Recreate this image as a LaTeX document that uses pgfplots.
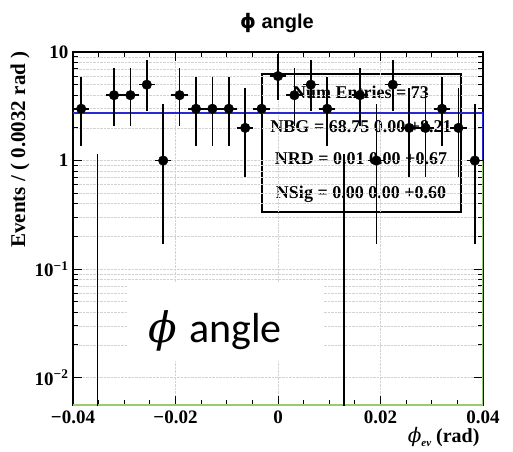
\documentclass[border=0pt]{standalone}
\usepackage{pgfplots}
\pgfplotsset{compat=1.18}
\usepackage{pgfplotstable}
\usepackage{fontspec}
\setmainfont{Liberation Serif}
\newfontfamily\helv{Liberation Sans}
\newfontfamily\dejavu{DejaVu Sans}
\newfontfamily\dejaserif{DejaVu Serif}
\newfontfamily\calibri{Carlito}

% bin centre, events, upper / lower Poisson errors
\pgfplotstableread{
x       y  ep    em
-0.0384 3  2.92  1.63
-0.0320 4  3.16  1.91
-0.0288 4  3.16  1.91
-0.0256 5  3.38  2.16
-0.0224 1  2.30  0.83
-0.0192 4  3.16  1.91
-0.0160 3  2.92  1.63
-0.0128 3  2.92  1.63
-0.0096 3  2.92  1.63
-0.0064 2  2.64  1.29
-0.0032 3  2.92  1.63
 0.0000 6  3.58  2.38
 0.0032 4  3.16  1.91
 0.0064 5  3.38  2.16
 0.0096 3  2.92  1.63
 0.0160 4  3.16  1.91
 0.0192 1  2.30  0.83
 0.0224 5  3.38  2.16
 0.0256 2  2.64  1.29
 0.0288 2  2.64  1.29
 0.0320 3  2.92  1.63
 0.0352 2  2.64  1.29
 0.0384 1  2.30  0.83
}\events

\begin{document}
\begin{tikzpicture}
\useasboundingbox (-73pt,-46pt) rectangle (440pt,405pt);

% stats box (transparent, under the data)
\draw[line width=1.1pt] (189pt,193pt) rectangle (388pt,331pt);
\begin{scope}[font=\fontsize{18}{20}\selectfont\bfseries]
\node at (288pt,313pt) {Num Entries = 73};
\node at (288pt,278pt) {NBG = 68.75 0.00 +8.21};
\node at (288pt,246pt) {NRD = 0.01 0.00 +0.67};
\node at (288pt,211pt) {NSig = 0.00 0.00 +0.60};
\end{scope}

\begin{axis}[
  at={(0pt,0pt)}, anchor=south west,
  scale only axis, width=410pt, height=353pt,
  xmin=-0.04, xmax=0.04, ymode=log, ymin=0.0056, ymax=10,
  scaled x ticks=false,
  axis line style={line width=1.1pt},
  tick align=inside, tick style={black, line width=1pt},
  major tick length=9pt, minor tick length=5pt,
  xtick={-0.04,-0.02,0,0.02,0.04},
  xticklabels={\textbf{−0.04},\textbf{−0.02},\textbf{0},\textbf{0.02},\textbf{0.04}},
  minor x tick num=3,
  ytick={0.01,0.1,1,10},
  yticklabels={\textbf{10\textsuperscript{−2}},\textbf{10\textsuperscript{−1}},\textbf{1},\textbf{10}},
  tick label style={font=\fontsize{19}{21}\selectfont\bfseries},
  xticklabel style={yshift=-2pt},
  yticklabel style={xshift=-1pt},
  xmajorgrids, ymajorgrids, yminorgrids,
  grid style={densely dotted, gray!35, line width=0.6pt},
  clip=true,
]
% fitted model (blue) and background component (green)
\addplot[draw={rgb,255:red,40;green,40;blue,210}, line width=1.8pt]
  coordinates {(-0.04,2.75) (0.04,2.75) (0.04,1.0)};
\addplot[draw={rgb,255:red,150;green,205;blue,110}, line width=1.6pt]
  coordinates {(-0.04,0.0056) (0.04,0.0056) (0.04,1.0)};

% empty bins: upper error only
\addplot[black, line width=1.8pt] coordinates {(-0.0352,0.001) (-0.0352,1.15)};
\addplot[black, line width=1.8pt] coordinates {(0.0128,0.001) (0.0128,1.15)};

% data points
\addplot[black, only marks, mark=*, mark size=4.8pt,
  error bars/.cd, x dir=both, x fixed=0.0016, y dir=both, y explicit,
  error mark=none, error bar style={line width=1.6pt}]
  table[x=x, y=y, y error plus=ep, y error minus=em] {\events};
\end{axis}

% title and axis titles
\node[font=\fontsize{20}{22}\selectfont\helv\bfseries] at (204pt,382pt)
  {{\dejavu\bfseries ϕ} angle};
\node[rotate=90, anchor=east, font=\fontsize{21}{23}\selectfont\bfseries]
  at (-53pt,357pt) {Events / ( 0.0032 rad )};
\node[anchor=base east, font=\fontsize{20}{22}\selectfont\bfseries]
  at (410pt,-37pt) {{\dejaserif\itshape\mdseries ϕ}\raisebox{-4pt}{\fontsize{11}{11}\selectfont\itshape ev}\ (rad)};

% overlaid caption box
\fill[white] (54pt,44pt) rectangle (250pt,123pt);
\node[anchor=base west, inner sep=0pt, font=\fontsize{42}{48}\selectfont\calibri] at (75pt,63pt)
  {{\dejaserif\itshape ϕ}\hspace{0.3em}angle};
\end{tikzpicture}
\end{document}
